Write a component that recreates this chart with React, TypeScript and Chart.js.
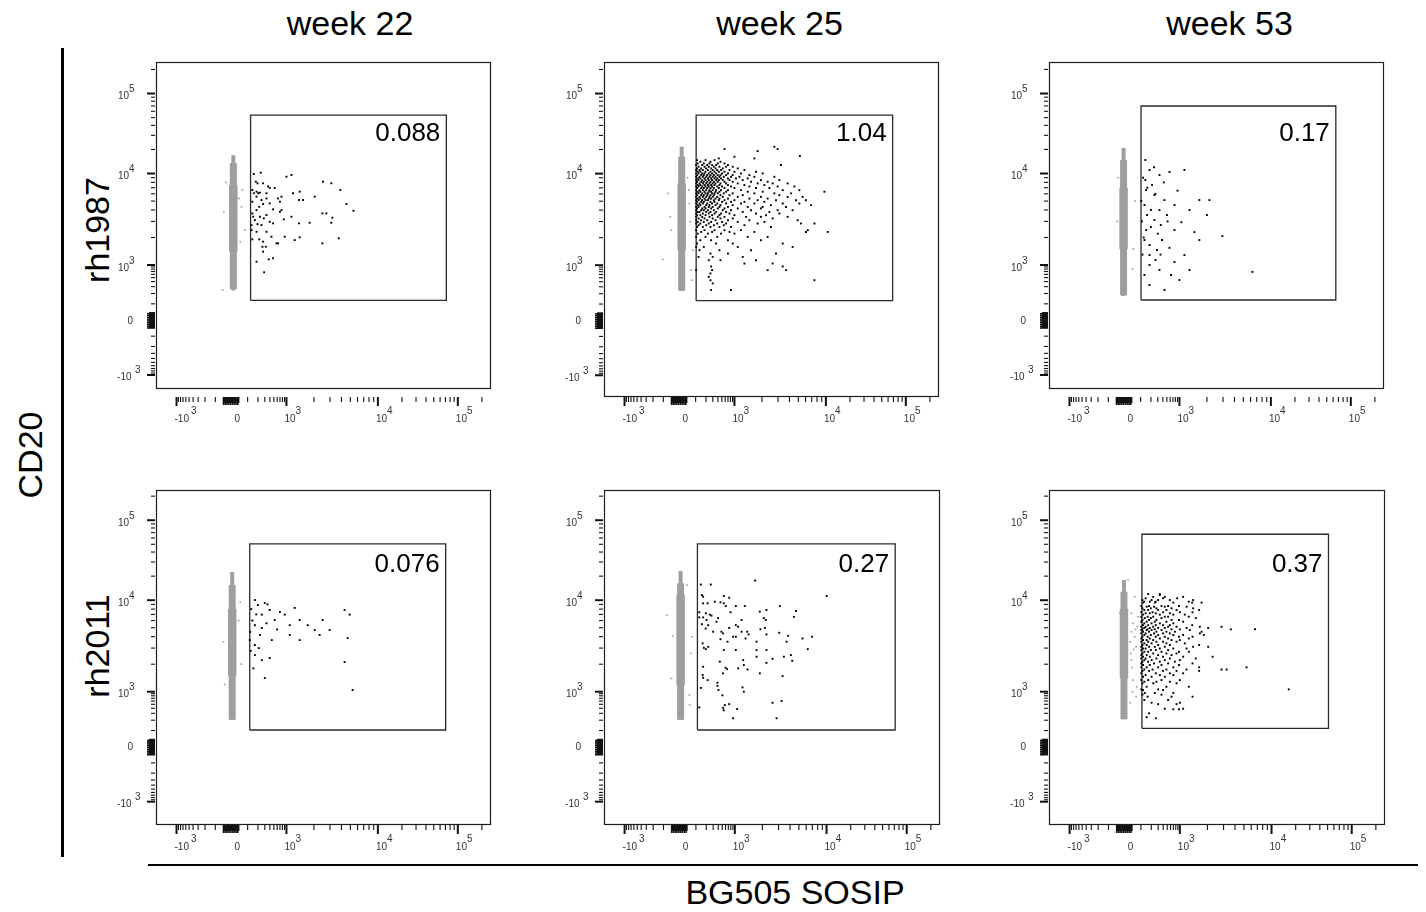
import React, { useEffect, useRef } from "react";
import { Chart, registerables, Scale } from "chart.js";

// ---------------- text ----------------
const WEEKS = ["week 22", "week 25", "week 53"];
const ANIMALS = ["rh1987", "rh2011"];
const X_AXIS_TITLE = "BG505 SOSIP";
const Y_AXIS_TITLE = "CD20";
const GATE_PCT = ["0.088", "1.04", "0.17", "0.076", "0.27", "0.37"];

// ---------------- axes (values) ----------------
const X_RANGE = [-3070, 260000];
const Y_RANGES = [
  [-2150, 247700], [-3270, 247700], [-2150, 247700],
  [-3570, 238600], [-3570, 238600], [-3570, 238600],
];
const MAJOR_TICKS = [-1000, 1000, 10000, 100000];
const MINOR_TICKS = [
  -900, -800, -700, -600, -500, -400, -300, -200, -100,
  100, 200, 300, 400, 500, 600, 700, 800, 900,
  2000, 3000, 4000, 5000, 6000, 7000, 8000, 9000,
  20000, 30000, 40000, 50000, 60000, 70000, 80000, 90000, 200000,
];
const ZERO_TICKS = [-45, -40, -35, -30, -25, -20, -15, -10, -5, 0, 5, 10, 15, 20, 25, 30, 35, 40];
const TICK_LABELS = [
  { value: -1000, base: "-10", exp: "3" },
  { value: 0, base: "0", exp: "" },
  { value: 1000, base: "10", exp: "3" },
  { value: 10000, base: "10", exp: "4" },
  { value: 100000, base: "10", exp: "5" },
];

// ---------------- gates (values) ----------------
const GATE_X = [[124, 71800], [104, 68400], [103, 64900], [117, 70500], [112, 71800], [108, 51300]];
const GATE_Y = [[128, 53800], [128, 53800], [132, 69800], [104, 50500], [104, 50500], [118, 66800]];

// ---------------- gated (black) events ----------------
const W22_RH1987_GATED = [
  [154, 9880], [237, 10230], [272, 7820], [175, 8140], [140, 6600], [203, 6090], [183, 5580], [247, 5130], [330, 5340], [397, 6960],
  [362, 7240], [525, 6960], [632, 5340], [762, 5580], [700, 4920], [1000, 9230], [1134, 9630], [1180, 6090], [1398, 6340], [1520, 5130],
  [1374, 5130], [2040, 5580], [2512, 8140], [3100, 7820], [3890, 6600], [4530, 4640], [5410, 3920], [2475, 3670], [2735, 3670], [3180, 3290],
  [3100, 2900], [1797, 2900], [1134, 3375], [1374, 2855], [864, 3160], [700, 3820], [762, 3990], [478, 4060], [397, 4720], [272, 4640],
  [216, 4330], [183, 3990], [140, 3670], [148, 3375], [165, 3100], [195, 2800], [225, 3375], [283, 3240], [330, 3520], [397, 2970],
  [478, 2855], [247, 2735], [183, 2310], [132, 2415], [330, 2310], [437, 2040], [578, 1727], [910, 2040], [1233, 1875], [1398, 2010],
  [272, 1800], [262, 1585], [318, 1585], [272, 1400], [216, 1910], [140, 1910], [632, 1727], [376, 1155], [478, 1185], [183, 1087],
  [288, 670], [2475, 1727], [3730, 1960], [132, 2735], [140, 4920], [154, 6090], [183, 6340], [225, 6180], [330, 6090], [195, 7820],
];

// rows: [CD20 value, [BG505 values...]]
const W25_RH1987_GATED_ROWS = [
  [21650, [2735]], [20240, [578, 2970]], [19100, [1797]], [16550, [5200]], [16250, [1000]], [15480, [420, 1653]],
  [14750, [111, 195, 330]],
  [14070, [140, 262, 462]],
  [13410, [117, 175, 247, 397, 578]],
  [12790, [104, 158, 216, 288, 362, 700, 3230]],
  [12180, [124, 183, 237, 318, 437, 632, 910]],
  [11610, [111, 148, 203, 272, 350, 525, 1087]],
  [11070, [104, 132, 165, 225, 298, 386, 478, 762, 1286]],
  [10550, [117, 140, 195, 262, 330, 422, 578, 1000, 1722]],
  [10050, [104, 124, 158, 183, 237, 288, 362, 505, 700, 1180, 2040]],
  [9630, [111, 148, 175, 216, 262, 318, 397, 462, 632, 910, 1459]],
  [9230, [104, 132, 165, 203, 247, 298, 350, 437, 555, 830, 1134, 1653, 2735]],
  [8860, [117, 140, 183, 225, 272, 330, 386, 478, 700, 1040, 1398]],
  [8490, [104, 124, 158, 195, 237, 288, 362, 422, 525, 762, 1233, 1950, 3100]],
  [8140, [111, 148, 175, 216, 262, 318, 397, 578, 910, 1520, 2310]],
  [7820, [104, 132, 165, 203, 247, 298, 350, 462, 632, 1087, 1797, 2620, 3820]],
  [7500, [117, 140, 183, 225, 272, 330, 437, 700, 1286, 2130]],
  [7240, [104, 124, 158, 195, 237, 288, 386, 505, 830, 1459, 2970, 4530]],
  [6960, [111, 148, 175, 216, 262, 318, 422, 578, 1000, 1722, 2415]],
  [6600, [104, 132, 165, 203, 247, 298, 362, 478, 700, 1180, 3375, 5130]],
  [6340, [117, 140, 183, 237, 272, 350, 437, 632, 1398, 2040, 9630]],
  [6090, [104, 124, 158, 195, 225, 288, 330, 397, 555, 910, 1653, 2735, 4160]],
  [5820, [111, 148, 175, 216, 262, 318, 462, 762, 1233, 3100]],
  [5580, [104, 132, 165, 203, 247, 298, 386, 525, 1087, 1950, 3820, 5580]],
  [5340, [117, 140, 183, 237, 272, 350, 437, 700, 1459, 2310]],
  [5130, [104, 124, 158, 195, 225, 318, 422, 578, 1000, 1797, 2850, 4720, 6060]],
  [4920, [111, 148, 175, 262, 330, 505, 830, 1286, 2130]],
  [4720, [104, 132, 165, 216, 288, 386, 632, 1180, 1653, 3375, 5130]],
  [4530, [117, 140, 203, 247, 350, 462, 910, 2512, 6880]],
  [4330, [104, 124, 183, 237, 298, 437, 700, 1398, 2040, 3670]],
  [4170, [111, 158, 195, 272, 397, 578, 1087, 1950]],
  [3990, [104, 148, 175, 225, 318, 525, 830, 1520, 2970, 4330]],
  [3820, [117, 132, 203, 262, 362, 632, 1233, 2415]],
  [3670, [104, 165, 237, 330, 478, 762, 1722, 3100]],
  [3520, [111, 140, 195, 288, 437, 1000, 2220]],
  [3375, [104, 158, 247, 397, 578, 1340, 1950, 3820]],
  [3240, [124, 183, 298, 462, 910, 2620]],
  [3100, [104, 148, 216, 350, 700, 1459, 4920]],
  [2970, [117, 175, 272, 505, 1087, 2130]],
  [2855, [104, 140, 237, 386, 632, 1797, 5340, 7500]],
  [2735, [124, 203, 318, 555, 1286]],
  [2620, [111, 165, 262, 437, 830, 2512]],
  [2415, [104, 183, 330, 578, 1180, 6340]],
  [2310, [148, 288, 762, 1653, 6060, 10550]],
  [2215, [117, 225, 478, 1000]],
  [2040, [104, 195, 386, 1398, 2310]],
  [1875, [140, 272, 700, 1950]],
  [1727, [111, 362, 910, 3375]],
  [1585, [104, 175, 1087, 4330]],
  [1459, [132, 437, 1520]],
  [1342, [262, 700, 2850]],
  [1233, [124, 298, 1233]],
  [1134, [237, 462, 1722]],
  [1043, [1286, 2620]],
  [930, [272, 3375]],
  [762, [104, 288, 2310, 3670]],
  [635, [262]],
  [525, [237]],
  [437, [262, 7500]],
  [365, [298]],
  [250, [272, 830]],
];

const W53_RH1987_GATED = [
  [140, 8490], [183, 11070], [330, 9630], [578, 10480], [1134, 11070], [148, 6600], [247, 5820], [437, 5130], [762, 4530], [1286, 3990],
  [1653, 5130], [2130, 5130], [157, 3520], [247, 3100], [356, 2735], [762, 2415], [132, 1875], [183, 1653], [286, 1459], [578, 1540],
  [1134, 1286], [183, 1000], [330, 762], [630, 578], [1286, 762], [183, 330], [437, 247], [1000, 437], [2950, 2070], [6290, 685],
  [132, 4530], [214, 7500], [330, 3990], [502, 3520], [1050, 2940], [1459, 2290], [148, 2415], [262, 1134], [132, 578], [183, 1286],
  [380, 1875], [762, 1078], [140, 14750], [1653, 1875], [2000, 3520], [120, 9000], [160, 7000], [200, 4000], [260, 6000], [110, 3000],
  [300, 2200], [115, 1300], [420, 8000], [240, 12000], [900, 6500], [105, 5000], [200, 2600], [520, 3000], [125, 2000], [350, 1300],
];

const W22_RH2011_GATED = [
  [165, 10050], [199, 8860], [300, 9330], [397, 7820], [252, 6960], [525, 6090], [910, 6960], [1087, 5340], [1398, 6090], [1710, 5340],
  [2040, 4720], [2490, 6090], [2970, 4720], [4330, 7820], [4920, 6960], [165, 5340], [225, 4170], [445, 3670], [1087, 4170], [1398, 3670],
  [2310, 4170], [4680, 3860], [165, 2515], [252, 2215], [397, 2335], [300, 1410], [165, 3240], [4330, 2110], [5300, 1043], [700, 7450],
  [1233, 8230], [252, 4980], [117, 3670], [130, 8000], [140, 6000], [120, 4500], [180, 7000], [330, 5600], [600, 4800], [210, 3000],
  [125, 2800], [150, 1800], [350, 9000],
];

const W25_RH2011_GATED = [
  [142, 15700], [262, 15700], [1666, 17620], [10050, 11300], [152, 11610], [165, 11070], [545, 11300], [735, 10750], [330, 9630], [453, 9480],
  [165, 9250], [217, 9250], [545, 9250], [610, 8630], [1025, 8630], [1286, 8630], [128, 7390], [195, 7200], [247, 6960], [272, 6790],
  [165, 6490], [397, 6380], [790, 7390], [1875, 7500], [2215, 7820], [3100, 8630], [4650, 7620], [4410, 6580], [2070, 6380], [2180, 6090],
  [1185, 6090], [1025, 5340], [1087, 5130], [1185, 4530], [1365, 4530], [1413, 4230], [478, 4530], [525, 4340], [300, 4530], [225, 5340],
  [152, 5470], [128, 6490], [204, 6090], [735, 4980], [910, 3990], [1025, 3990], [1310, 3820], [1727, 3520], [1905, 4820], [2130, 4980],
  [2215, 4230], [3050, 4410], [3820, 4090], [5470, 3820], [6960, 3990], [3670, 3520], [6240, 2920], [1727, 2855], [2215, 2855], [3430, 2415],
  [4090, 2515], [4230, 2180], [2580, 2290], [1727, 2415], [2215, 2070], [1233, 2215], [1254, 1960], [1376, 1750], [1087, 1800], [655, 1765],
  [600, 1830], [525, 1590], [437, 2130], [545, 2860], [1025, 2860], [195, 2920], [225, 3100], [172, 3020], [165, 1875], [160, 1520],
  [217, 1340], [165, 1420], [142, 1100], [383, 1254], [383, 1160], [405, 1043], [505, 820], [1214, 1115], [1254, 1000], [1875, 1590],
  [3320, 1480], [578, 478], [525, 410], [735, 505], [545, 357], [1060, 383], [910, 225], [2580, 545], [3240, 600], [2855, 225],
  [128, 420], [160, 3380], [193, 4900], [363, 5820], [453, 3750], [670, 3520],
];

const W53_RH2011_GATED_ROWS = [
  [11950, [165, 330]], [11610, [330]], [11000, [225, 437, 1087]], [10570, [140, 397, 865]],
  [10050, [112, 204, 300, 578, 1398]], [9630, [128, 183, 262, 1254]], [9420, [117, 247, 700, 1365, 1727]],
  [8640, [103, 175, 363, 525, 955]], [8490, [150, 237, 437, 1185]], [8160, [112, 195, 272, 635, 1398]],
  [7820, [128, 165, 300, 478, 835, 1625]], [7390, [103, 217, 397, 1000, 1376]], [7200, [140, 183, 262, 578]],
  [6960, [117, 330, 700, 1134]], [6600, [103, 160, 225, 437, 525, 1254]], [6380, [132, 195, 363, 1495]],
  [6090, [112, 175, 272, 635, 955]], [5820, [103, 150, 247, 478, 1087]], [5590, [128, 204, 330, 700]],
  [5340, [117, 165, 262, 397, 578, 1365]], [5130, [103, 140, 225, 525, 835, 1653, 2855]],
  [4980, [128, 183, 300, 437, 1185, 2040]], [4810, [112, 160, 247, 635, 1000, 3600, 6600]],
  [4720, [103, 150, 204, 363, 1286]], [4530, [117, 175, 272, 478, 762, 1727]],
  [4340, [103, 140, 237, 397, 578, 1653]], [4170, [128, 195, 300, 700, 1087, 1830]],
  [3990, [112, 160, 262, 437, 955, 1376]], [3820, [103, 183, 330, 525, 1254]], [3670, [117, 150, 225, 635, 1000]],
  [3520, [103, 165, 272, 397, 835]], [3380, [128, 204, 478, 1134]], [3240, [112, 150, 300, 578, 1625]],
  [3100, [103, 175, 247, 437, 1398, 2040]], [2970, [117, 140, 330, 700, 1185]], [2855, [103, 195, 262, 525]],
  [2735, [128, 165, 363, 955, 1254]], [2620, [112, 225, 478, 835]], [2515, [103, 150, 300, 635]],
  [2415, [117, 183, 397, 1087, 2280]], [2310, [103, 140, 272, 578, 1495]], [2215, [128, 204, 437, 1000]],
  [2130, [112, 165, 330, 762]], [2040, [103, 237, 525, 1376]], [1960, [117, 183, 363, 955]],
  [1850, [103, 150, 300, 700, 1625, 5340]], [1750, [128, 217, 478, 1185, 2855, 3240]], [1690, [112, 175, 397, 835, 1625]],
  [1590, [103, 262, 578, 1087]], [1520, [140, 330, 700]], [1459, [117, 204, 437]], [1342, [103, 165, 363, 1000]],
  [1286, [128, 272, 578]], [1236, [112, 225, 835]], [1134, [150, 478, 1254]], [1060, [103, 300, 16400]],
  [1043, [117, 397]], [930, [132, 247, 700]], [850, [112, 363]], [762, [160, 635, 1376]], [635, [128, 525]],
  [545, [204, 1000]], [505, [300, 835]], [390, [437, 1087]], [378, [700, 955]], [300, [175]], [240, [150]], [225, [262]],
];

// ---------------- ungated (grey) events ----------------
// dense grey column: [BG505 value, CD20 low, CD20 high] for tip / core / widest part
const W22_RH1987_GREY_BAND = [[10, 240, 16900], [10, 260, 13500], [10, 1400, 7500]];
const W25_RH1987_GREY_BAND = [[12, 240, 21650], [12, 240, 16250], [12, 1459, 7820]];
const W53_RH1987_GREY_BAND = [[-5, 172, 20800], [-5, 180, 14700], [-5, 1500, 7000]];
const W22_RH2011_GREY_BAND = [[4, 205, 22500], [4, 205, 15480], [4, 1500, 8000]];
const W25_RH2011_GREY_BAND = [[5, 205, 23200], [5, 205, 16300], [5, 1185, 11610]];
const W53_RH2011_GREY_BAND = [[-4, 212, 17900], [-4, 212, 12790], [-4, 1400, 8000]];

const W22_RH1987_GREY = [[-43, 3770], [79, 2415], [-50, 247], [42, 5340], [57, 4330], [63, 6600], [-30, 8000], [50, 1800]];
const W25_RH1987_GREY = [[-104, 1155], [-46, 2415], [-52, 3375], [57, 4720], [68, 762], [72, 437], [79, 1459], [52, 6600], [-66, 6090], [60, 3000], [45, 9000]];
const W53_RH1987_GREY = [[-40, 3000], [60, 5000], [50, 1500], [-35, 9000], [45, 800]];
const W22_RH2011_GREY = [[-45, 3500], [55, 2000], [40, 6000], [-38, 1200], [50, 9500]];
const W25_RH2011_GREY = [[-76, 6860], [-46, 1400], [57, 478], [55, 835], [40, 15480], [66, 2620], [72, 3990], [-37, 4090]];
const W53_RH2011_GREY = [
  [37, 7200], [46, 5590], [57, 3990], [66, 3100], [37, 2215], [46, 1342], [66, 762], [30, 545], [79, 6600], [37, 4530],
  [57, 11070], [18, 17900], [40, 1850], [70, 1134], [33, 2620], [-27, 7200], [50, 2900], [62, 4800], [44, 1000], [75, 5200], [30, 3500],
];

const rowsToPoints = (rows: any[]) => {
  const out: number[][] = [];
  rows.forEach(([y, xs]: [number, number[]]) => xs.forEach((x) => out.push([x, y])));
  return out;
};

const GATED = [
  W22_RH1987_GATED, rowsToPoints(W25_RH1987_GATED_ROWS), W53_RH1987_GATED,
  W22_RH2011_GATED, W25_RH2011_GATED, rowsToPoints(W53_RH2011_GATED_ROWS),
];
const GREY = [W22_RH1987_GREY, W25_RH1987_GREY, W53_RH1987_GREY, W22_RH2011_GREY, W25_RH2011_GREY, W53_RH2011_GREY];
const GREY_BAND = [W22_RH1987_GREY_BAND, W25_RH1987_GREY_BAND, W53_RH1987_GREY_BAND, W22_RH2011_GREY_BAND, W25_RH2011_GREY_BAND, W53_RH2011_GREY_BAND];

// ---------------- layout / style ----------------
const FRAMES = [
  [156, 62, 491, 389], [604, 62, 939, 397], [1049, 62, 1384, 389],
  [156, 490, 491, 825], [604, 490, 940, 825], [1049, 490, 1385, 825],
];
const TICK_GAP = [8, 0, 8, 0, 0, 0];
const LABEL_DY = [79, 79, 79, 82, 82, 82];
const PAD = { l: 62, t: 10, r: 8, b: 48 };
const BAND_WIDTHS = [4, 7, 8.5];
const FONT_FAMILY = '"Liberation Sans", Arial, Helvetica, sans-serif';
const TITLE_X = [350, 779.5, 1229.5];
const ROW_Y = [229.5, 646];

// ---------------- biexponential-like display scale ----------------
const AW = 100;
const U1 = Math.asinh(1000 / AW);
const U2 = Math.asinh(10000 / AW);
const U3 = Math.asinh(100000 / AW);
function tf(v: number): number {
  const u = Math.asinh(v / AW);
  if (u <= U1) return (u * 55) / U1;
  if (u <= U2) return 55 + ((u - U1) / (U2 - U1)) * 91.5;
  return 146.5 + ((u - U2) / (U3 - U2)) * 80;
}
function tfInv(t: number): number {
  let u;
  if (t <= 55) u = (t * U1) / 55;
  else if (t <= 146.5) u = U1 + ((t - 55) / 91.5) * (U2 - U1);
  else u = U2 + ((t - 146.5) / 80) * (U3 - U2);
  return AW * Math.sinh(u);
}

class BiexScale extends (Scale as any) {
  static id = "biex";
  static defaults = {};
  determineDataLimits() {
    this.min = this.options.min;
    this.max = this.options.max;
  }
  buildTicks() {
    return [{ value: this.min }, { value: this.max }];
  }
  getLabelForValue(v: number) {
    return String(v);
  }
  configure() {
    super.configure();
    this._tmin = tf(this.min);
    this._tmax = tf(this.max);
  }
  getPixelForValue(v: number) {
    return this.getPixelForDecimal((tf(v) - this._tmin) / (this._tmax - this._tmin));
  }
  getValueForPixel(p: number) {
    const d = this.getDecimalForPixel(p);
    return tfInv(this._tmin + d * (this._tmax - this._tmin));
  }
}

Chart.register(...registerables, BiexScale as any);

function makeAxesPlugin(idx: number) {
  return {
    id: "flowAxes",
    afterDraw(chart: any) {
      const { ctx, chartArea: a } = chart;
      const xs = chart.scales.x;
      const ys = chart.scales.y;
      ctx.save();
      ctx.strokeStyle = "#1e1e1e";
      ctx.lineWidth = 1.2;
      ctx.strokeRect(a.left + 0.5, a.top + 0.5, a.right - a.left - 1, a.bottom - a.top - 1);

      const ty = a.bottom + TICK_GAP[idx];
      const drawX = (v: number, len: number, lw: number) => {
        const p = xs.getPixelForValue(v);
        if (p < a.left - 0.5 || p > a.right + 0.5) return;
        ctx.lineWidth = lw;
        ctx.beginPath();
        ctx.moveTo(p, ty);
        ctx.lineTo(p, ty + len);
        ctx.stroke();
      };
      const drawY = (v: number, len: number, lw: number) => {
        const p = ys.getPixelForValue(v);
        if (p < a.top - 0.5 || p > a.bottom + 0.5) return;
        ctx.lineWidth = lw;
        ctx.beginPath();
        ctx.moveTo(a.left - 1, p);
        ctx.lineTo(a.left - 1 - len, p);
        ctx.stroke();
      };
      ctx.strokeStyle = "#111";
      MINOR_TICKS.forEach((v) => { drawX(v, 5, 1.1); drawY(v, 4, 1.1); });
      ZERO_TICKS.forEach((v, i) => { drawX(v, i % 2 ? 6 : 8, 1.6); drawY(v, i % 2 ? 6 : 8, 1.6); });
      MAJOR_TICKS.forEach((v) => { drawX(v, 9, 2); drawY(v, 8, 2); });

      ctx.fillStyle = "#333";
      ctx.font = `10px ${FONT_FAMILY}`;
      ctx.textBaseline = "alphabetic";
      TICK_LABELS.forEach((t) => {
        const px = xs.getPixelForValue(t.value);
        const by = ty + 25;
        ctx.textAlign = "left";
        if (t.exp) {
          const x0 = px - 2;
          ctx.fillText(t.base, x0, by);
          const bw = ctx.measureText(t.base).width;
          ctx.fillText(t.exp, x0 + bw + (t.value < 0 ? 2 : 0), by - 8);
        } else {
          ctx.fillText(t.base, px + 3, by);
        }
        const py = ys.getPixelForValue(t.value);
        if (t.exp) {
          const right = t.value < 0 ? a.left - 24.5 : a.left - 27;
          ctx.textAlign = "right";
          ctx.fillText(t.base, right, py + 5.5);
          ctx.textAlign = "left";
          ctx.fillText(t.exp, right + (t.value < 0 ? 3.5 : 0), py - 1.5);
        } else {
          ctx.textAlign = "right";
          ctx.fillText(t.base, a.left - 23, py + 3.6);
        }
      });

      ctx.font = `26px ${FONT_FAMILY}`;
      ctx.fillStyle = "#000";
      ctx.textAlign = "right";
      ctx.fillText(GATE_PCT[idx], xs.getPixelForValue(GATE_X[idx][1]) - 6, a.top + LABEL_DY[idx]);
      ctx.restore();
    },
  };
}

function FlowPanel({ idx }: { idx: number }) {
  const ref = useRef<HTMLCanvasElement>(null);
  const [fl, ft, fr, fb] = FRAMES[idx];
  const w = fr - fl + PAD.l + PAD.r;
  const h = fb - ft + PAD.t + PAD.b;

  useEffect(() => {
    const [gx0, gx1] = GATE_X[idx];
    const [gy0, gy1] = GATE_Y[idx];
    const datasets: any[] = [
      {
        data: GATED[idx].map(([x, y]) => ({ x, y })),
        pointStyle: "rect",
        pointRadius: 1.35,
        pointBorderWidth: 0,
        pointBackgroundColor: "#000",
        showLine: false,
      },
      {
        data: [
          { x: gx0, y: gy0 }, { x: gx1, y: gy0 }, { x: gx1, y: gy1 }, { x: gx0, y: gy1 }, { x: gx0, y: gy0 },
        ],
        showLine: true,
        borderColor: "#2a2a2a",
        borderWidth: 1.3,
        pointRadius: 0,
        fill: false,
      },
      {
        data: GREY[idx].map(([x, y]) => ({ x, y })),
        pointStyle: "rect",
        pointRadius: 1.2,
        pointBorderWidth: 0,
        pointBackgroundColor: "#a3a3a3",
        showLine: false,
      },
      ...GREY_BAND[idx].map(([x, lo, hi], i) => ({
        data: [{ x, y: lo }, { x, y: hi }],
        showLine: true,
        borderColor: "#9e9e9e",
        borderWidth: BAND_WIDTHS[i],
        borderCapStyle: "butt",
        pointRadius: 0,
        fill: false,
      })),
    ];
    const [ymin, ymax] = Y_RANGES[idx];
    const chart = new Chart(ref.current as HTMLCanvasElement, {
      type: "scatter",
      data: { datasets },
      options: {
        animation: false,
        responsive: false,
        maintainAspectRatio: false,
        devicePixelRatio: 1,
        events: [],
        layout: { padding: { left: PAD.l, right: PAD.r, top: PAD.t, bottom: PAD.b } },
        plugins: { legend: { display: false }, tooltip: { enabled: false }, title: { display: false } },
        scales: {
          x: { type: "biex", min: X_RANGE[0], max: X_RANGE[1], display: false },
          y: { type: "biex", min: ymin, max: ymax, display: false },
        },
      } as any,
      plugins: [makeAxesPlugin(idx)],
    } as any);
    return () => chart.destroy();
  }, [idx]);

  return (
    <canvas
      ref={ref}
      width={w}
      height={h}
      style={{ position: "absolute", left: fl - PAD.l, top: ft - PAD.t, width: w, height: h }}
    />
  );
}

const textBase: React.CSSProperties = {
  position: "absolute",
  fontSize: 34,
  lineHeight: 1,
  whiteSpace: "nowrap",
  color: "#000",
};

export default function App() {
  return (
    <div
      style={{
        position: "absolute",
        left: 0,
        top: 0,
        width: 1426,
        height: 912,
        background: "#fff",
        overflow: "hidden",
        fontFamily: FONT_FAMILY,
      }}
    >
      {WEEKS.map((wk, i) => (
        <div key={wk} style={{ ...textBase, left: TITLE_X[i], top: 22.5, transform: "translate(-50%, -50%)" }}>
          {wk}
        </div>
      ))}
      {ANIMALS.map((an, i) => (
        <div key={an} style={{ ...textBase, left: 96.5, top: ROW_Y[i], transform: "translate(-50%, -50%) rotate(-90deg)" }}>
          {an}
        </div>
      ))}
      <div style={{ ...textBase, left: 29.5, top: 455, transform: "translate(-50%, -50%) rotate(-90deg)" }}>{Y_AXIS_TITLE}</div>
      <div style={{ ...textBase, left: 795, top: 892, transform: "translate(-50%, -50%)" }}>{X_AXIS_TITLE}</div>
      <div style={{ position: "absolute", left: 61, top: 48, width: 2.5, height: 809, background: "#000" }} />
      <div style={{ position: "absolute", left: 148, top: 864, width: 1270, height: 2, background: "#000" }} />
      {[0, 1, 2, 3, 4, 5].map((i) => (
        <FlowPanel key={i} idx={i} />
      ))}
    </div>
  );
}
